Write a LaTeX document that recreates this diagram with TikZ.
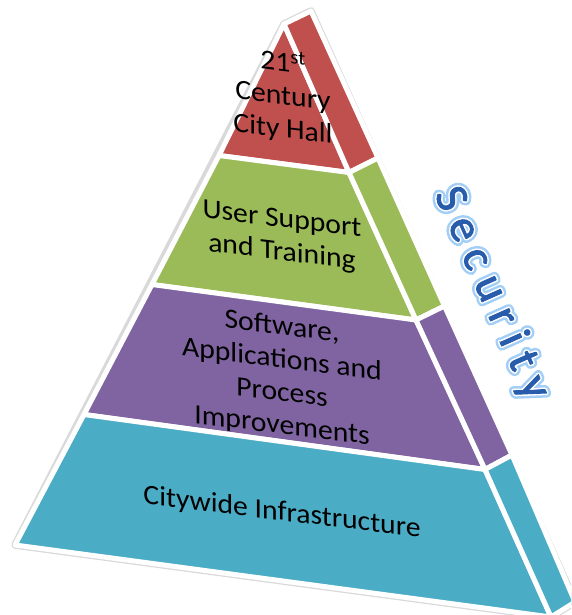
\documentclass[tikz,border=0pt]{standalone}
\usepackage{fontspec}
\setmainfont{Carlito}
\definecolor{cred}{RGB}{192,80,77}
\definecolor{cgreen}{RGB}{155,187,89}
\definecolor{cpurple}{RGB}{128,100,162}
\definecolor{cteal}{RGB}{75,172,198}
\definecolor{secblue}{RGB}{40,92,172}
\newcommand{\secword}{S\hspace{11pt}e\hspace{11pt}c\hspace{11pt}u\hspace{11pt}r\hspace{11pt}i\hspace{11pt}t\hspace{11pt}y}
\newcommand{\strokeon}[2]{\special{pdf:literal direct 2 Tr #1 w 1 j 1 J #2 RG}}
\newcommand{\strokeoff}{\special{pdf:literal direct 0 Tr 1 w}}
\begin{document}
\begin{tikzpicture}[x=1pt,y=-1pt,
  band/.style={draw=white, line width=5pt, line join=round},
  outline/.style={draw=gray!30, fill=white, line width=7.5pt, line join=round},
  lbl/.style={font=\fontsize{28}{33}\selectfont, align=center, text=black, xscale=1.06, yslant=-0.13, inner sep=0pt},
  sec/.style={font=\fontsize{46}{46}\selectfont, rotate=-66, inner sep=0pt}]
\useasboundingbox (0,0) rectangle (571,615);
\clip (0,0) rectangle (571,615);
% geometry
\coordinate (A) at (284,24);
\coordinate (L1) at (219,155.5);
\coordinate (L2) at (152,284.5);
\coordinate (L3) at (84,414.5);
\coordinate (L4) at (15,545);
\coordinate (D1) at (349,172.5);
\coordinate (D2) at (416,320);
\coordinate (D3) at (485,469.5);
\coordinate (D4) at (551,617);
\coordinate (R0) at (311,11);
\coordinate (R1) at (378,158);
\coordinate (R2) at (444.5,306);
\coordinate (R3) at (512,455);
\coordinate (R4) at (575,602);
% outer outline
\path[outline] (A) -- (R0) -- (R4) -- (D4) -- (L4) -- cycle;
% front face
\path[band, fill=cred] (A) -- (D1) -- (L1) -- cycle;
\path[band, fill=cgreen] (L1) -- (D1) -- (D2) -- (L2) -- cycle;
\path[band, fill=cpurple] (L2) -- (D2) -- (D3) -- (L3) -- cycle;
\path[band, fill=cteal] (L3) -- (D3) -- (D4) -- (L4) -- cycle;
% side face
\path[band, fill=cred] (A) -- (R0) -- (R1) -- (D1) -- cycle;
\path[band, fill=cgreen] (D1) -- (R1) -- (R2) -- (D2) -- cycle;
\path[band, fill=cpurple] (D2) -- (R2) -- (R3) -- (D3) -- cycle;
\path[band, fill=cteal] (D3) -- (R3) -- (R4) -- (D4) -- cycle;
% labels
\node[lbl] (hall) at (283,96) {21\textsuperscript{st}\\Century\\City Hall};
\node[lbl] (user) at (282,237) {User Support\\and Training};
\node[lbl] (soft) at (282,377) {Software,\\Applications and\\Process\\Improvements};
\node[lbl] (infra) at (282,513) {Citywide Infrastructure};
% Security with glow
\node[sec, text=white] (secglow) at (491.5,293.5) {\strokeon{9}{0.64 0.81 0.97}\secword\strokeoff};
\node[sec, text=white] (secring) at (491.5,293.5) {\strokeon{4}{1 1 1}\secword\strokeoff};
\node[sec, text=secblue] (security) at (491.5,293.5) {\strokeon{0.9}{0.16 0.36 0.67}\secword\strokeoff};
\end{tikzpicture}
\end{document}
